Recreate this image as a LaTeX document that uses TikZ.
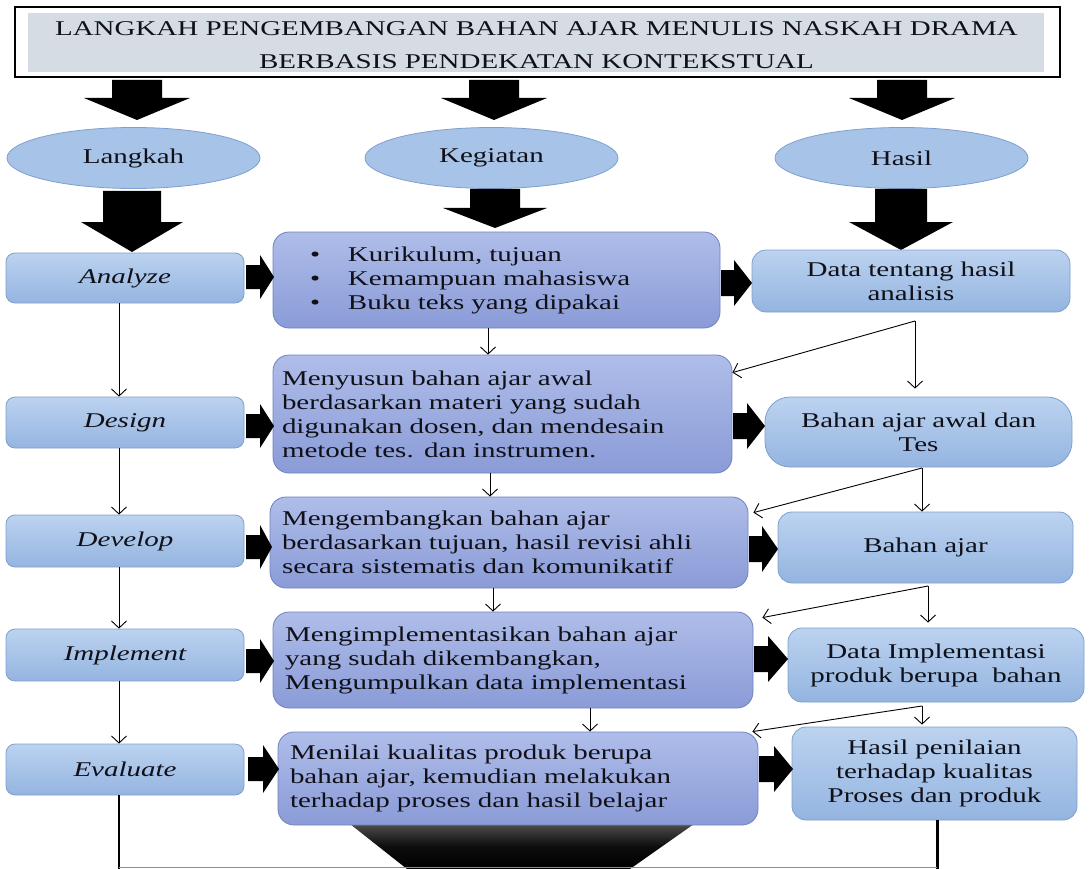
\documentclass[tikz,border=0pt]{standalone}
\usepackage{fontspec}
\setmainfont[FakeStretch=1.38]{Liberation Serif}
\usetikzlibrary{arrows.meta,calc,shapes.geometric}

\definecolor{ellfill}{HTML}{A7C3E8}
\definecolor{ellline}{HTML}{7F9FCC}
\definecolor{lbtop}{HTML}{BCD3F0}
\definecolor{lbbot}{HTML}{94B4E0}
\definecolor{mbtop}{HTML}{AFBDE9}
\definecolor{mbbot}{HTML}{8A9BD7}
\definecolor{mbline}{HTML}{6E82C0}
\definecolor{titlegray}{HTML}{D6DCE4}
\definecolor{txt}{HTML}{101018}

\newcommand\BodyFnt{\fontsize{21pt}{24pt}\selectfont}
% down block arrow: cx, top, shaft half width, head half width, head start y, tip y
\newcommand\DownBlock[6]{\fill[black] (#1-#3,#2) -- (#1+#3,#2) -- (#1+#3,#5) -- (#1+#4,#5) -- (#1,#6) -- (#1-#4,#5) -- (#1-#3,#5) -- cycle;}
% right block arrow: x0, cy, shaft half height, head half height, head start x, tip x
\newcommand\RightBlock[6]{\fill[black] (#1,#2-#3) -- (#5,#2-#3) -- (#5,#2-#4) -- (#6,#2) -- (#5,#2+#4) -- (#5,#2+#3) -- (#1,#2+#3) -- cycle;}

\tikzset{
 ell/.style={ellipse, draw=ellline, line width=0.8pt, fill=ellfill, minimum width=253pt, minimum height=61pt, inner sep=0pt},
 leftbox/.style={rectangle, rounded corners=9pt, draw=ellline, line width=0.8pt, top color=lbtop, bottom color=lbbot, minimum width=238pt, inner sep=0pt, font=\BodyFnt\itshape},
 midbox/.style={rectangle, rounded corners=16pt, draw=mbline, line width=0.8pt, top color=mbtop, bottom color=mbbot, align=left, inner ysep=0pt},
 rightbox/.style={rectangle, rounded corners=14pt, draw=ellline, line width=0.8pt, top color=lbtop, bottom color=lbbot, align=center, inner ysep=0pt, inner xsep=8pt},
 thinarrow/.style={-{Straight Barb[length=7pt,width=15pt]}, line width=0.9pt},
}

\begin{document}
\begin{tikzpicture}[x=1pt,y=-1pt, every node/.style={font=\BodyFnt, text=txt}]
\useasboundingbox (0,0) rectangle (1089,869);

% title
\node[draw, line width=1.2pt, minimum width=1045pt, minimum height=70pt, inner sep=0pt] (title) at (537.5,42) {};
\fill[titlegray] (28,13) rectangle (1044,72);
\node[align=center] (ttext) at (536.5,45) {LANGKAH PENGEMBANGAN BAHAN AJAR MENULIS NASKAH DRAMA\\[9pt]BERBASIS PENDEKATAN KONTEKSTUAL};

% top block arrows
\DownBlock{137}{80}{25}{53}{98}{120}
\DownBlock{494}{80}{25}{53}{98}{120}
\DownBlock{902}{80}{25}{53}{98}{120}

% ellipses
\node[ell] (langkah) at (133.5,158) {Langkah};
\node[ell] (kegiatan) at (491.5,158) {Kegiatan};
\node[ell] (hasil) at (901.5,158) {Hasil};

% big block arrows
\DownBlock{132}{191}{29}{51}{222}{252}
\DownBlock{495}{189}{25}{52}{208}{228}
\DownBlock{901}{189}{26}{52}{222}{250}

% bottom big arrowhead
\shade[top color=black!70, bottom color=black, middle color=black!95] (350,824) -- (694,824) -- (630,869) -- (407,869) -- cycle;

% left column
\node[leftbox, minimum height=50pt] (an) at (125,278) {Analyze};
\node[leftbox, minimum height=51pt] (de) at (125,422.5) {Design};
\node[leftbox, minimum height=52pt] (dv) at (125,541) {Develop};
\node[leftbox, minimum height=52pt] (im) at (125,655) {Implement};
\node[leftbox, minimum height=51pt] (ev) at (125,769.5) {Evaluate};

% middle column
\node[midbox, minimum width=447pt, minimum height=96pt, inner xsep=37pt, text width=373pt] (m1) at (496.5,280)
 {\makebox[38pt][l]{\textbullet}Kurikulum, tujuan\\\makebox[38pt][l]{\textbullet}Kemampuan mahasiswa\\\makebox[38pt][l]{\textbullet}Buku teks yang dipakai};
\node[midbox, minimum width=459pt, minimum height=118pt, inner xsep=9pt, text width=441pt] (m2) at (502.5,414)
 {Menyusun bahan ajar awal\\berdasarkan materi yang sudah\\digunakan dosen, dan mendesain\\metode tes. dan instrumen.};
\node[midbox, minimum width=478pt, minimum height=91pt, inner xsep=12pt, text width=454pt] (m3) at (509,542.5)
 {Mengembangkan bahan ajar\\berdasarkan tujuan, hasil revisi ahli\\secara sistematis dan komunikatif};
\node[midbox, minimum width=480pt, minimum height=96pt, inner xsep=12pt, text width=456pt] (m4) at (513,660)
 {Mengimplementasikan bahan ajar\\yang sudah dikembangkan,\\Mengumpulkan data implementasi};
\node[midbox, minimum width=480pt, minimum height=93pt, inner xsep=12pt, text width=456pt] (m5) at (518,778.5)
 {Menilai kualitas produk berupa\\bahan ajar, kemudian melakukan\\terhadap proses dan hasil belajar};

% right column
\node[rightbox, minimum width=318pt, minimum height=62pt, text width=302pt] (r1) at (911,281) {Data tentang hasil\\analisis};
\node[rightbox, rounded corners=25pt, minimum width=307pt, minimum height=70pt, text width=291pt] (r2) at (918.5,432) {Bahan ajar awal dan\\Tes};
\node[rightbox, minimum width=295pt, minimum height=71pt, text width=279pt] (r3) at (925.5,547.5) {Bahan ajar\\[6pt]};
\node[rightbox, minimum width=296pt, minimum height=74pt, text width=280pt] (r4) at (936,665) {Data Implementasi\\produk berupa\ \ bahan};
\node[rightbox, minimum width=285pt, minimum height=93pt, text width=269pt] (r5) at (934.5,773.5) {Hasil penilaian\\terhadap kualitas\\Proses dan produk};

% left -> middle block arrows
\RightBlock{246}{277}{12}{22}{260}{274}
\RightBlock{246}{426}{12}{22}{260}{274}
\RightBlock{246}{547}{12}{22}{260}{272}
\RightBlock{246}{661}{12}{22}{260}{274}
\RightBlock{248}{769}{12}{24}{263}{279}

% middle -> right block arrows
\RightBlock{721}{283}{13}{23}{734}{752}
\RightBlock{733}{426}{13}{23}{747}{765}
\RightBlock{749}{549}{13}{23}{762}{778}
\RightBlock{754}{659}{13}{23}{768}{788}
\RightBlock{759}{769}{13}{23}{774}{793}

% left column connectors
\draw[thinarrow] ([xshift=-6pt]an.south) -- ([xshift=-6pt]de.north);
\draw[thinarrow] ([xshift=-6pt]de.south) -- ([xshift=-6pt]dv.north);
\draw[thinarrow] ([xshift=-6pt]dv.south) -- ([xshift=-6pt]im.north);
\draw[thinarrow] ([xshift=-6pt]im.south) -- ([xshift=-6pt]ev.north);

% middle column connectors
\draw[thinarrow] ([xshift=-8.5pt]m1.south) -- ([xshift=-14.5pt]m2.north);
\draw[thinarrow] ([xshift=-12.5pt]m2.south) -- ([xshift=-19pt]m3.north);
\draw[thinarrow] ([xshift=-16pt]m3.south) -- ([xshift=-20pt]m4.north);
\draw[thinarrow] ([xshift=77pt]m4.south) -- ([xshift=72pt]m5.north);

% right column connectors
\coordinate (c1) at (915,321);
\coordinate (c2) at (922,468);
\coordinate (c3) at (928,586);
\coordinate (c4) at (922,706);
\draw[thinarrow] (c1) -- ([yshift=-18pt]m2.north east);
\draw[thinarrow, shorten >=8pt] (c1) -- (c1 |- r2.north);
\draw[thinarrow] (c2) -- ([xshift=5pt,yshift=-16pt]m3.north east);
\draw[thinarrow] (c2) -- (c2 |- r3.north);
\draw[thinarrow] (c3) -- ([xshift=9pt,yshift=-6pt]m4.north east);
\draw[thinarrow, shorten >=5pt] (c3) -- (c3 |- r4.north);
\draw[thinarrow] (c4) -- ([xshift=-6pt]m5.north east);
\draw[thinarrow, shorten >=2pt] (c4) -- (c4 |- r5.north);

% bottom lines
\coordinate (bl) at (119,867);
\coordinate (br) at (937,867);
\draw[line width=2.5pt] ([xshift=-6pt]ev.south) -- (119,869);
\draw[line width=3pt] (r5.south -| br) -- (937,869);
\draw[line width=0.8pt, black!45] (bl) -- (br);
\end{tikzpicture}
\end{document}
